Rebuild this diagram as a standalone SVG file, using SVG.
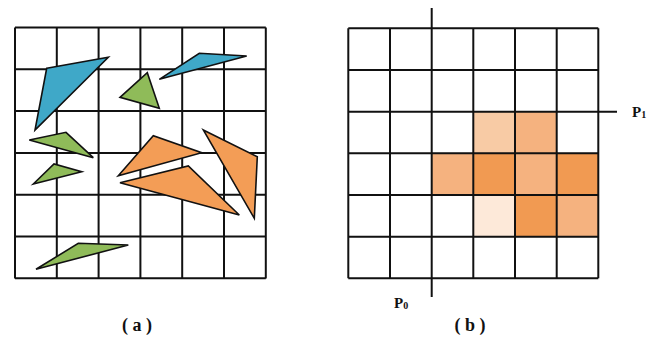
<svg xmlns="http://www.w3.org/2000/svg" width="662" height="338" viewBox="0 0 662 338">
<style>
.grid{stroke:#111;stroke-width:2;fill:none}
.tri{stroke:#111;stroke-width:1.6;stroke-linejoin:miter}
.blue{fill:#3fa8c8}
.green{fill:#8fbb59}
.orange{fill:#f39d56}
.lbl{font-family:"Liberation Serif",serif;font-weight:bold;fill:#111}
.c1{fill:#fde9d9}
.c2{fill:#f8cba5}
.c3{fill:#f5b27f}
.c4{fill:#f19a52}
</style>
<rect width="662" height="338" fill="#fff"/>
<g id="panel-a">
<g id="grid-a" class="grid">
<path d="M15 27.5V278.5M56.8 27.5V278.5M98.6 27.5V278.5M140.4 27.5V278.5M182.2 27.5V278.5M224 27.5V278.5M265.8 27.5V278.5"/>
<path d="M15 27.5H265.8M15 69.3H265.8M15 111.1H265.8M15 152.9H265.8M15 194.7H265.8M15 236.5H265.8M15 278.3H265.8"/>
</g>
<g id="shapes-a">
<polygon class="tri blue" points="46.7,68.3 108.3,57.3 35,130"/>
<polygon class="tri blue" points="159.3,79.3 199.3,53.3 246.7,56"/>
<polygon class="tri green" points="120,97.3 147.3,72.7 159.3,108.3"/>
<polygon class="tri green" points="29.3,140 66,132.3 93.3,157.7"/>
<polygon class="tri green" points="33.3,184 54,164 81.7,171.7"/>
<polygon class="tri green" points="36,269.3 78.3,243.3 128.3,245"/>
<polygon class="tri orange" points="118.3,175.7 153.3,135.7 201.7,152.7"/>
<polygon class="tri orange" points="120,182.7 188.3,166 239.3,215"/>
<polygon class="tri orange" points="203.3,130 257.3,156.7 254.3,218.3"/>
</g>
<text class="lbl" x="137" y="331" font-size="18" text-anchor="middle">( a )</text>
</g>
<g id="panel-b">
<g id="cells-b">
<rect class="c2" x="473.3" y="111.7" width="41.7" height="41.7"/>
<rect class="c3" x="515" y="111.7" width="41.7" height="41.7"/>
<rect class="c3" x="431.7" y="153.3" width="41.7" height="41.7"/>
<rect class="c4" x="473.3" y="153.3" width="41.7" height="41.7"/>
<rect class="c3" x="515" y="153.3" width="41.7" height="41.7"/>
<rect class="c4" x="556.7" y="153.3" width="41.7" height="41.7"/>
<rect class="c1" x="473.3" y="195" width="41.7" height="41.7"/>
<rect class="c4" x="515" y="195" width="41.7" height="41.7"/>
<rect class="c3" x="556.7" y="195" width="41.7" height="41.7"/>
</g>
<g id="grid-b" class="grid">
<path d="M348.3 28.3V278.3M390 28.3V278.3M473.3 28.3V278.3M515 28.3V278.3M556.7 28.3V278.3M598.3 28.3V278.3"/>
<path d="M348.3 28.3H598.3M348.3 70H598.3M348.3 153.3H598.3M348.3 195H598.3M348.3 236.7H598.3M348.3 278.3H598.3"/>
</g>
<g id="axes-b" class="grid">
<path d="M431.7 8V297"/>
<path d="M348.3 111.7H617"/>
</g>
<g id="label-p1">
<text class="lbl" x="632" y="117" font-size="15">P<tspan font-size="10" dy="1">1</tspan></text>
</g>
<g id="label-p0">
<text class="lbl" x="394" y="308" font-size="15">P<tspan font-size="10" dy="1">0</tspan></text>
</g>
<text class="lbl" x="470" y="331" font-size="18" text-anchor="middle">( b )</text>
</g>
</svg>
